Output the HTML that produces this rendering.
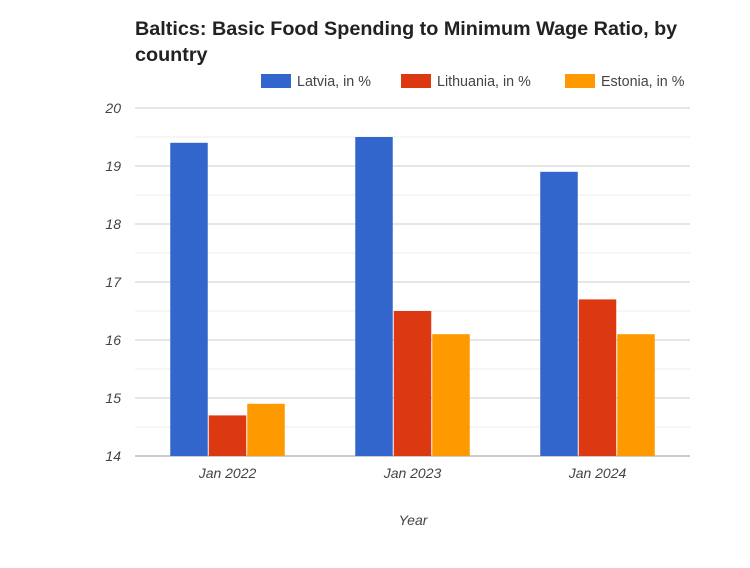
<!DOCTYPE html>
<html><head><meta charset="utf-8"><style>
body{margin:0;background:#fff;width:750px;height:563px;overflow:hidden;font-family:"Liberation Sans",sans-serif;}
</style></head><body>
<svg width="750" height="563">
<text x="135" y="35" font-size="19.8" font-weight="bold" fill="#222">Baltics: Basic Food Spending to Minimum Wage Ratio, by</text>
<text x="135" y="61" font-size="19.8" font-weight="bold" fill="#222">country</text>
<g id="legend"></g>
<g id="grid"></g>
<g id="bars"></g>
<g id="axes"></g>
<text x="413" y="525" font-size="14" font-style="italic" fill="#444" text-anchor="middle">Year</text>
</svg>
<script>
const categories=["Jan 2022","Jan 2023","Jan 2024"];
const seriesNames=["Latvia, in %","Lithuania, in %","Estonia, in %"];
const latvia=[19.4,19.5,18.9];
const lithuania=[14.7,16.5,16.7];
const estonia=[14.9,16.1,16.1];
const yTicks=[14,15,16,17,18,19,20];
const colors=["#3366cc","#dc3912","#ff9900"];
const NS="http://www.w3.org/2000/svg";
const x0=135,x1=690,yTop=108,yBot=456,yMin=14,yMax=20;
function y(v){return yBot-(v-yMin)/(yMax-yMin)*(yBot-yTop);}
function mk(t,a,p){const e=document.createElementNS(NS,t);for(const k in a)e.setAttribute(k,a[k]);p.appendChild(e);return e;}
const grid=document.getElementById('grid'),axes=document.getElementById('axes'),bars=document.getElementById('bars'),leg=document.getElementById('legend');
for(let v=yMin;v<yMax;v+=0.5){if(v%1!==0){const l=mk('line',{x1:x0,x2:x1,y1:y(v),y2:y(v),stroke:'#ececec'},grid);}}
yTicks.forEach(v=>{
const l=mk('line',{x1:x0,x2:x1,y1:y(v),y2:y(v),stroke:v===yMin?'#999':'#ccc'},grid);


const t=mk('text',{x:121,y:y(v)+5,'font-size':14,'font-style':'italic',fill:'#444','text-anchor':'end'},axes);
t.textContent=v;


});
const series=[latvia,lithuania,estonia];
const gw=(x1-x0)/categories.length,bw=37.5,gap=1;
categories.forEach((c,i)=>{
const cx=x0+gw*(i+0.5);
series.forEach((s,j)=>{
const bx=cx-(3*bw+2*gap)/2+j*(bw+gap);
const r=mk('rect',{x:bx,y:y(s[i]),width:bw,height:yBot-y(s[i]),fill:colors[j]},bars);


});
const t=mk('text',{x:cx,y:478,'font-size':14,'font-style':'italic',fill:'#444','text-anchor':'middle'},axes);
t.textContent=c;


});
const lx=[261,401,565];
seriesNames.forEach((n,j)=>{
const r=mk('rect',{x:lx[j],y:74,width:30,height:14,fill:colors[j]},leg);


const t=mk('text',{x:lx[j]+36,y:86,'font-size':14.3,fill:'#444'},leg);
t.textContent=n;


});
</script>
</body></html>
